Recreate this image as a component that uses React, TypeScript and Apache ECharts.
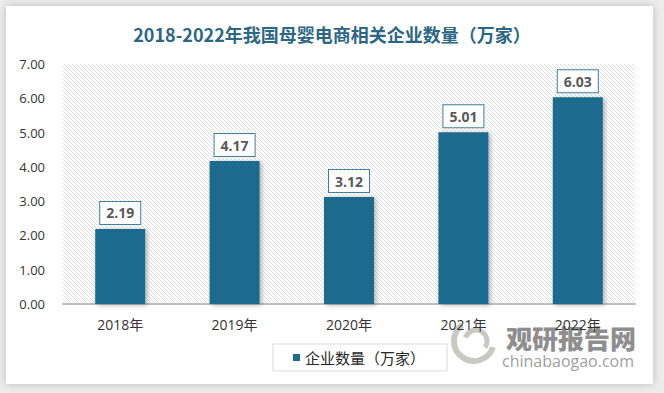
import React, { useEffect, useRef } from "react";
import * as echarts from "echarts";

const title = "2018-2022年我国母婴电商相关企业数量（万家）";
const categories = ["2018年", "2019年", "2020年", "2021年", "2022年"];
const seriesName = "企业数量（万家）";
const values = [2.19, 4.17, 3.12, 5.01, 6.03];
const yMin = 0;
const yMax = 7;
const yInterval = 1;

const hatch =
  "data:image/svg+xml;charset=utf-8," +
  encodeURIComponent(
    "<svg xmlns='http://www.w3.org/2000/svg' width='4' height='4'><path d='M-1,-1 L5,5 M-1,3 L1,5 M3,-1 L5,1' stroke='#dedede' stroke-width='1'/></svg>"
  );

export default function App() {
  const ref = useRef<HTMLDivElement>(null);
  useEffect(() => {
    if (!ref.current) return;
    const chart = echarts.init(ref.current, null, { renderer: "svg" });
    const font = "'Open Sans', 'Noto Sans CJK SC', sans-serif";
    chart.setOption({
      animation: false,
      backgroundColor: "#ededed",
      title: {
        text: title,
        left: "center",
        top: 20,
        textStyle: {
          fontSize: 18,
          fontWeight: "bold",
          color: "#2b6784",
          fontFamily: "'Noto Sans CJK SC', sans-serif",
        },
      },
      graphic: [
        {
          type: "rect",
          z: -30,
          shape: { x: 6, y: 6, width: 647, height: 378 },
          style: { fill: "#ffffff", shadowBlur: 8, shadowColor: "rgba(0,0,0,0.22)" },
        },
        {
          type: "rect",
          z: -20,
          shape: { x: 63, y: 64, width: 572, height: 240 },
          style: { fill: { image: hatch, repeat: "repeat" } as any },
        },
        {
          type: "arc",
          z: -10,
          shape: { cx: 474, cy: 341, r: 20, startAngle: Math.PI * 0.1, endAngle: Math.PI * 1.3 },
          style: { stroke: "#c9c9c4", lineWidth: 6, fill: "none" },
        },
        {
          type: "arc",
          z: -10,
          shape: { cx: 476, cy: 341, r: 11, startAngle: Math.PI * 1.1, endAngle: Math.PI * 2.2 },
          style: { stroke: "#c9c9c4", lineWidth: 5, fill: "none" },
        },
        {
          type: "text",
          z: -10,
          x: 506,
          y: 337,
          style: {
            text: "观研报告网",
            font: "900 26px 'Noto Sans CJK SC', sans-serif",
            fill: "#8e8e8e",
            textVerticalAlign: "middle",
          } as any,
        },
        {
          type: "text",
          z: -10,
          x: 502,
          y: 361,
          style: {
            text: "chinabaogao.com",
            font: "16px 'Open Sans', sans-serif",
            fill: "#a0a0a0",
            textVerticalAlign: "middle",
          } as any,
        },
      ],
      grid: { left: 63, right: 29, top: 64, bottom: 89 },
      legend: {
        left: 273,
        top: 344,
        icon: "rect",
        itemWidth: 7,
        itemHeight: 7,
        itemGap: 5,
        borderColor: "#d9d9d9",
        borderWidth: 1,
        padding: [6, 22, 6, 20],
        textStyle: { fontSize: 15, color: "#262626", fontFamily: "'Noto Sans CJK SC', sans-serif" },
        data: [seriesName],
      },
      xAxis: {
        type: "category",
        data: categories,
        axisLine: { lineStyle: { color: "#bfbfbf", width: 2 } },
        axisTick: { show: false },
        axisLabel: { margin: 13, fontSize: 14, color: "#333", fontFamily: font },
      },
      yAxis: {
        type: "value",
        min: yMin,
        max: yMax,
        interval: yInterval,
        splitLine: { show: false },
        axisLine: { show: false },
        axisTick: { show: false },
        axisLabel: {
          margin: 18,
          fontSize: 13,
          color: "#333",
          fontFamily: font,
          formatter: (v: number) => v.toFixed(2),
        },
      },
      series: [
        {
          name: seriesName,
          type: "bar",
          data: values,
          barWidth: 50,
          itemStyle: {
            color: "#1f6a8e",
            shadowBlur: 5,
            shadowColor: "rgba(0,0,0,0.3)",
            shadowOffsetX: 2,
            shadowOffsetY: 1,
          },
          label: {
            show: true,
            position: "top",
            distance: 5,
            backgroundColor: "#ffffff",
            borderColor: "#3f809c",
            borderWidth: 1,
            padding: [4, 6, 4, 6],
            color: "#595959",
            fontWeight: "bold",
            fontSize: 14,
            fontFamily: font,
            formatter: (p: any) => Number(p.value).toFixed(2),
          },
        },
      ],
    });
    return () => chart.dispose();
  }, []);
  return (
    <div
      ref={ref}
      style={{ position: "fixed", left: 0, top: 0, width: 664, height: 393 }}
    />
  );
}
